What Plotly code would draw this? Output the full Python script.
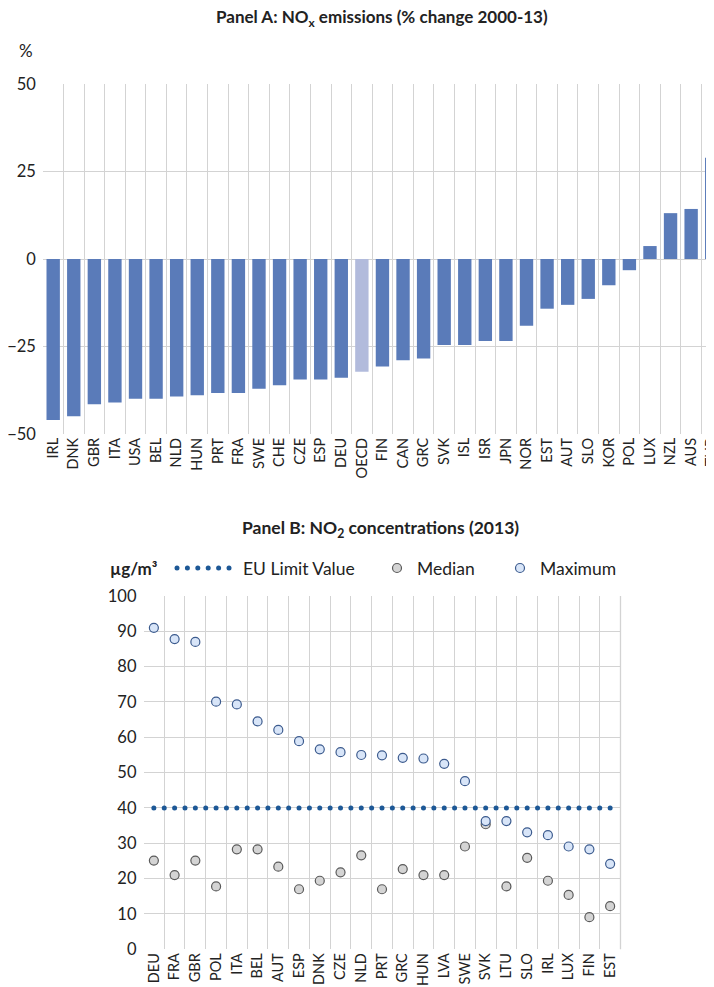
import numpy as np
import plotly.graph_objects as go

# ---------------- Data ----------------
nox_countries = ["IRL", "DNK", "GBR", "ITA", "USA", "BEL", "NLD", "HUN", "PRT", "FRA",
                 "SWE", "CHE", "CZE", "ESP", "DEU", "OECD", "FIN", "CAN", "GRC", "SVK",
                 "ISL", "ISR", "JPN", "NOR", "EST", "AUT", "SLO", "KOR", "POL", "LUX",
                 "NZL", "AUS", "TUR"]
nox_change = [-46.0, -44.9, -41.5, -41.0, -39.9, -39.9, -39.3, -38.9, -38.3, -38.3,
              -37.1, -36.1, -34.4, -34.4, -33.9, -32.2, -30.7, -28.9, -28.4, -24.6,
              -24.6, -23.4, -23.4, -19.1, -14.2, -13.1, -11.4, -7.5, -3.2, 3.7,
              13.1, 14.3, 28.9]

no2_countries = ["DEU", "FRA", "GBR", "POL", "ITA", "BEL", "AUT", "ESP", "DNK", "CZE",
                 "NLD", "PRT", "GRC", "HUN", "LVA", "SWE", "SVK", "LTU", "SLO", "IRL",
                 "LUX", "FIN", "EST"]
no2_median = [25.1, 21.0, 25.1, 17.8, 28.3, 28.3, 23.4, 17.0, 19.4, 21.8,
              26.6, 17.0, 22.7, 21.0, 21.0, 29.1, 35.4, 17.8, 25.9, 19.4,
              15.4, 9.1, 12.2]
no2_max = [91.0, 87.8, 87.0, 70.1, 69.3, 64.5, 62.1, 58.9, 56.6, 55.8,
           55.0, 54.9, 54.2, 54.0, 52.5, 47.6, 36.3, 36.3, 33.1, 32.3,
           29.1, 28.3, 24.2]
eu_limit = 40

# ---------------- Styles ----------------
FONT = "Lato"
BAR = "#5a7bb9"
BAR_OECD = "#b2bbdc"
GRID = "#d3d3d3"
TXT = "#222222"
LIM = "#1d5896"
MED_FILL, MED_LINE = "#d4d4d4", "#5a5a5a"
MAX_FILL, MAX_LINE = "#d8e5f8", "#3c5b8e"
OFF = 8                     # default page body margin
W, H = 714, 987 - OFF       # panel A plot runs past the right page edge, like the source

def py(px):
    """screen y (px) -> paper fraction"""
    return 1 - (px - OFF) / H

def pxx(px):
    """screen x (px) -> paper fraction"""
    return (px - OFF) / W

fig = go.Figure()

# Panel A bars
colors = [BAR_OECD if c == "OECD" else BAR for c in nox_countries]
fig.add_trace(go.Bar(x=nox_countries, y=nox_change, marker=dict(color=colors, line=dict(width=0)),
                     xaxis="x", yaxis="y", showlegend=False, width=0.65))

# Panel B: EU limit value as a dotted row (overlay numeric axis)
lim_x = np.arange(0, len(no2_countries) - 1 + 0.01, 0.5)
fig.add_trace(go.Scatter(x=lim_x, y=[eu_limit] * len(lim_x), mode="markers",
                         marker=dict(color=LIM, size=5),
                         xaxis="x3", yaxis="y2", showlegend=False, hoverinfo="skip"))
fig.add_trace(go.Scatter(x=no2_countries, y=no2_median, mode="markers", name="Median",
                         marker=dict(color=MED_FILL, size=9, line=dict(color=MED_LINE, width=1.2)),
                         xaxis="x2", yaxis="y2", showlegend=False))
fig.add_trace(go.Scatter(x=no2_countries, y=no2_max, mode="markers", name="Maximum",
                         marker=dict(color=MAX_FILL, size=9, line=dict(color=MAX_LINE, width=1.2)),
                         xaxis="x2", yaxis="y2", showlegend=False))

# ---------------- Layout ----------------
axis_common = dict(showline=False, zeroline=False, gridcolor=GRID, gridwidth=1.3, ticks="",
                   automargin=False)
xfont = dict(family=FONT, size=14.5, color=TXT)
yfont = dict(family=FONT, size=16.5, color=TXT)

B_L, B_R, B_T, B_B = 143.5, 620.5, 596, 949.3

# manual legend (panel B)
LEG_Y = 568
shapes = [dict(type="line", xref="paper", yref="paper", x0=pxx(B_R), x1=pxx(B_R),
               y0=py(B_B), y1=py(B_T), line=dict(color=GRID, width=1.3))]

def circle(cx, cy, r, fill, line_color, lw):
    return dict(type="circle", xref="paper", yref="paper",
                x0=pxx(cx - r), x1=pxx(cx + r), y0=py(cy + r), y1=py(cy - r),
                fillcolor=fill, line=dict(color=line_color, width=lw))

for cx in np.linspace(177, 229, 6):
    shapes.append(circle(cx, LEG_Y, 2.5, LIM, LIM, 0))
shapes.append(circle(397, LEG_Y, 4.5, MED_FILL, MED_LINE, 1.2))
shapes.append(circle(520, LEG_Y, 4.5, MAX_FILL, MAX_LINE, 1.2))

def label(text, x, y, size, anchor="left"):
    return dict(text=text, x=pxx(x), y=py(y), xref="paper", yref="paper", showarrow=False,
                xanchor=anchor, yanchor="middle", font=dict(family=FONT, size=size, color=TXT))

annotations = [
    label("<b>Panel A: NO<sub>x</sub> emissions (% change 2000-13)</b>", 382, 18, 17, "center"),
    label("%", 17, 51, 17),
    label("<b>Panel B: NO<sub>2</sub> concentrations (2013)</b>", 380, 529, 17.5, "center"),
    label("<b>µg/m³</b>", 108, LEG_Y, 17),
    label("EU Limit Value", 241, LEG_Y, 17.5),
    label("Median", 415, LEG_Y, 17.5),
    label("Maximum", 538, LEG_Y, 17.5),
]

fig.update_layout(
    width=W, height=H,
    margin=dict(l=0, r=0, t=0, b=0),
    paper_bgcolor="white", plot_bgcolor="white",
    font=dict(family=FONT, color=TXT),
    showlegend=False,
    bargap=0.35,
    xaxis=dict(axis_common, domain=[pxx(42.9), 1], anchor="y", type="category",
               tickson="boundaries", showgrid=True, tickangle=-90,
               range=[-0.5, len(nox_countries) - 0.5], tickfont=xfont),
    yaxis=dict(axis_common, domain=[py(434), py(84)], anchor="x", range=[-50, 50],
               tickvals=[-50, -25, 0, 25, 50], showgrid=True, ticklabelstandoff=6,
               tickfont=yfont),
    xaxis2=dict(axis_common, domain=[pxx(B_L), pxx(B_R)], anchor="y2", type="category",
                tickson="boundaries", showgrid=True, tickangle=-90,
                range=[-0.5, len(no2_countries) - 0.5], tickfont=xfont),
    xaxis3=dict(domain=[pxx(B_L), pxx(B_R)], anchor="y2", overlaying="x2",
                range=[-0.5, len(no2_countries) - 0.5], visible=False, automargin=False),
    yaxis2=dict(axis_common, domain=[py(B_B), py(B_T)], anchor="x2", range=[0, 100],
                dtick=10, showgrid=True, ticklabelstandoff=6, tickfont=yfont),
    shapes=shapes,
    annotations=annotations,
)

fig.write_html("out.html")
